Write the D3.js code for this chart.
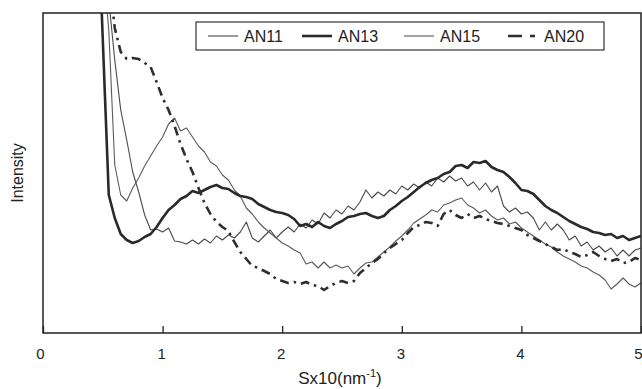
<!DOCTYPE html>
<html><head><meta charset="utf-8">
<script src="https://cdn.jsdelivr.net/npm/d3@7"></script>
<style>body{margin:0;background:#fff}svg{display:block}text{font-family:"Liberation Sans",Arial,sans-serif;fill:#222}</style>
</head><body><svg id="c" width="642" height="389"></svg>
<script>
const sGrid = [0.45,0.50,0.55,0.60,0.65,0.70,0.75,0.80,0.85,0.90,0.95,1.00,1.05,1.10,1.15,1.20,1.25,1.30,1.35,1.40,1.45,1.50,1.55,1.60,1.65,1.70,1.75,1.80,1.85,1.90,1.95,2.00,2.05,2.10,2.15,2.20,2.25,2.30,2.35,2.40,2.45,2.50,2.55,2.60,2.65,2.70,2.75,2.80,2.85,2.90,2.95,3.00,3.05,3.10,3.15,3.20,3.25,3.30,3.35,3.40,3.45,3.50,3.55,3.60,3.65,3.70,3.75,3.80,3.85,3.90,3.95,4.00,4.05,4.10,4.15,4.20,4.25,4.30,4.35,4.40,4.45,4.50,4.55,4.60,4.65,4.70,4.75,4.80,4.85,4.90,4.95,5.00];
const an11 = [440,360,333,273,223,193,161,141,118,103,104,101,105,92,91,89,93,89,94,90,97,93,98,95,101,111,95,91,97,103,95,101,106,101,109,105,113,109,120,115,123,119,127,123,131,143,135,141,137,143,139,147,143,149,145,151,147,155,151,157,152,155,147,151,143,150,141,147,127,121,125,119,121,115,103,111,103,109,103,93,97,87,91,83,87,81,85,77,83,77,83,85];
const an13 = [450,293,138,115,99,93,90,92,96,99,106,115,123,128,134,137,142,140,143,146,148,145,144,140,137,136,134,129,126,123,121,120,118,114,107,109,106,111,107,105,109,112,116,117,119,120,117,115,117,123,127,132,136,141,146,150,153,155,159,161,167,168,165,171,170,172,166,163,161,156,150,143,142,139,133,127,123,120,116,112,109,106,104,101,100,98,99,95,97,93,95,97];
const an15 = [440,373,303,168,138,132,145,155,167,177,187,196,209,215,202,205,196,187,181,171,167,158,153,143,137,125,119,111,105,100,95,90,87,83,80,69,71,65,71,65,68,65,67,59,65,70,71,76,81,86,92,97,103,110,114,118,123,121,128,130,133,135,128,125,120,123,117,113,115,109,111,105,101,97,93,89,86,81,77,74,71,67,65,61,58,53,44,49,55,49,46,50];
const an20 = [480,420,360,305,281,274,275,274,270,266,251,235,223,207,189,174,161,145,130,119,111,106,102,91,81,74,67,65,62,59,54,52,50,51,49,51,48,47,43,47,50,52,50,52,60,65,70,74,80,85,89,93,100,106,108,111,110,107,119,123,118,115,119,115,117,114,112,110,109,107,105,103,98,95,92,89,86,83,84,81,79,76,78,81,77,74,72,74,70,71,75,73];
const seriesNames = ["AN11","AN13","AN15","AN20"];
const xTicks = [0,1,2,3,4,5];

const styles = {
  AN11:{stroke:"#4a4a4a",width:1.1,dash:null},
  AN13:{stroke:"#2a2a2a",width:2.6,dash:null},
  AN15:{stroke:"#5a5a5a",width:1.1,dash:null},
  AN20:{stroke:"#2e2e2e",width:2.6,dash:"9,5,2.5,5"}
};
const dataMap = {AN11:an11, AN13:an13, AN15:an15, AN20:an20};

const svg = d3.select("#c");
const L=43, R=641, T=13, B=333;
const x = d3.scaleLinear().domain([0,5]).range([L,R]);
const y = d3.scaleLinear().domain([0,320]).range([B,T]);

svg.append("clipPath").attr("id","pc").append("rect").attr("x",L).attr("y",T).attr("width",R-L).attr("height",B-T);

const line = d3.line().x(d=>x(d[0])).y(d=>y(d[1]));
const g = svg.append("g").attr("clip-path","url(#pc)");
["AN11","AN15","AN13","AN20"].forEach(n=>{
  const st = styles[n];
  g.append("path").datum(sGrid.map((s,i)=>[s,dataMap[n][i]]))
    .attr("d",line).attr("fill","none").attr("stroke",st.stroke)
    .attr("stroke-width",st.width).attr("stroke-linejoin","round")
    .attr("stroke-dasharray",st.dash);
});

// frame
svg.append("rect").attr("x",L).attr("y",T).attr("width",R-L).attr("height",B-T)
  .attr("fill","none").attr("stroke","#222").attr("stroke-width",1.5);

// x axis ticks (inward) and labels
const ax = d3.axisBottom(x).tickValues(xTicks).tickFormat(d3.format("d"))
  .tickSizeInner(-7).tickSizeOuter(0).tickPadding(15);
const axg = svg.append("g").attr("transform",`translate(0,${B})`).call(ax);
axg.select(".domain").remove();
axg.selectAll(".tick line").attr("stroke","#222").attr("stroke-width",1.3);
axg.selectAll(".tick text").attr("font-size",15).attr("fill","#222")
  .attr("font-family","Liberation Sans, Arial, sans-serif").attr("dx",(d)=>d===0?-3:(d===5?-3:-1.5));

// axis titles
const xt = svg.append("text").attr("x",340).attr("y",384).attr("text-anchor","middle").attr("font-size",17);
xt.append("tspan").text("Sx10(nm");
xt.append("tspan").attr("font-size",11).attr("dy",-7).text("-1");
xt.append("tspan").attr("dy",7).text(")");
svg.append("text").attr("transform","translate(23,173) rotate(-90)").attr("text-anchor","middle")
  .attr("font-size",16).text("Intensity");

// legend
const lg = svg.append("g");
lg.append("rect").attr("x",196).attr("y",22).attr("width",408).attr("height",28)
  .attr("fill","#fff").attr("stroke","#333").attr("stroke-width",1.2);
const lx = [208,302,404,508];
seriesNames.forEach((n,i)=>{
  const st = styles[n];
  lg.append("line").attr("x1",lx[i]).attr("x2",lx[i]+30).attr("y1",36).attr("y2",36)
    .attr("stroke",st.stroke).attr("stroke-width",st.width)
    .attr("stroke-dasharray", n==="AN20" ? "14,8,5,20" : null);
  lg.append("text").attr("x",lx[i]+36).attr("y",42).attr("font-size",16).text(n);
});
</script></body></html>
